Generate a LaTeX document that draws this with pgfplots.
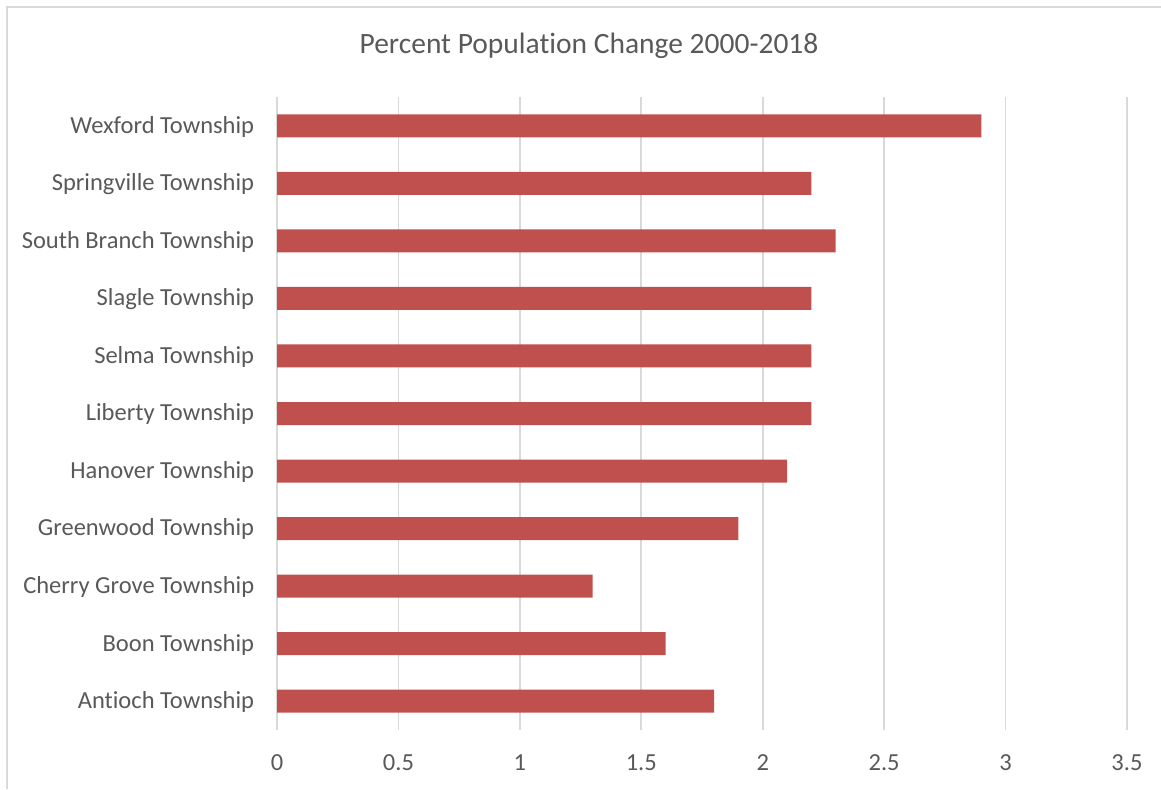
\documentclass[border=0pt]{standalone}
\usepackage{pgfplots}
\pgfplotsset{compat=1.18}
\usepackage{fontspec}
\setmainfont{Carlito}[RawFeature={-liga;-clig;-calt;-dlig}]
\definecolor{barred}{HTML}{C0504D}
\definecolor{txtgray}{HTML}{595959}
\definecolor{gridgray}{HTML}{D9D9D9}
\begin{document}
\begin{tikzpicture}[x=0.6pt,y=0.6pt]
% page = 1161 x 789 px, origin bottom left
\path[use as bounding box] (0,0) rectangle (1161,789);
\draw[gridgray, line width=1.3pt] (7,0) -- (7,782) -- (1161,782);
\node[txtgray, font=\fontsize{17.7}{21}\selectfont] at (589,743) {Percent Population Change 2000-2018};
\begin{axis}[
    at={(277*0.6pt,59*0.6pt)}, anchor=south west,
    scale only axis,
    width=510pt, height=379.8pt,
    xmin=0, xmax=3.5,
    ymin=-0.5, ymax=10.5,
    xtick={0,0.5,...,3.5},
    ytick={0,...,10},
    yticklabels={Antioch Township, Boon Township, Cherry Grove Township, Greenwood Township, Hanover Township, Liberty Township, Selma Township, Slagle Township, South Branch Township, Springville Township, Wexford Township},
    axis line style={draw=none},
    major tick length=0pt,
    xmajorgrids,
    grid style={gridgray, line width=1pt},
    tick label style={txtgray, font=\fontsize{14.7}{17}\selectfont},
    /pgf/number format/assume math mode=true,
    xticklabel style={yshift=-11.5pt},
    yticklabel style={xshift=-10.2pt, yshift=-0.5pt},
    xbar, bar width=13.8pt,
]
\addplot[fill=barred, draw=none] coordinates {
(1.8,0) (1.6,1) (1.3,2) (1.9,3) (2.1,4) (2.2,5) (2.2,6) (2.2,7) (2.3,8) (2.2,9) (2.9,10)
};
\end{axis}
\end{tikzpicture}
\end{document}
